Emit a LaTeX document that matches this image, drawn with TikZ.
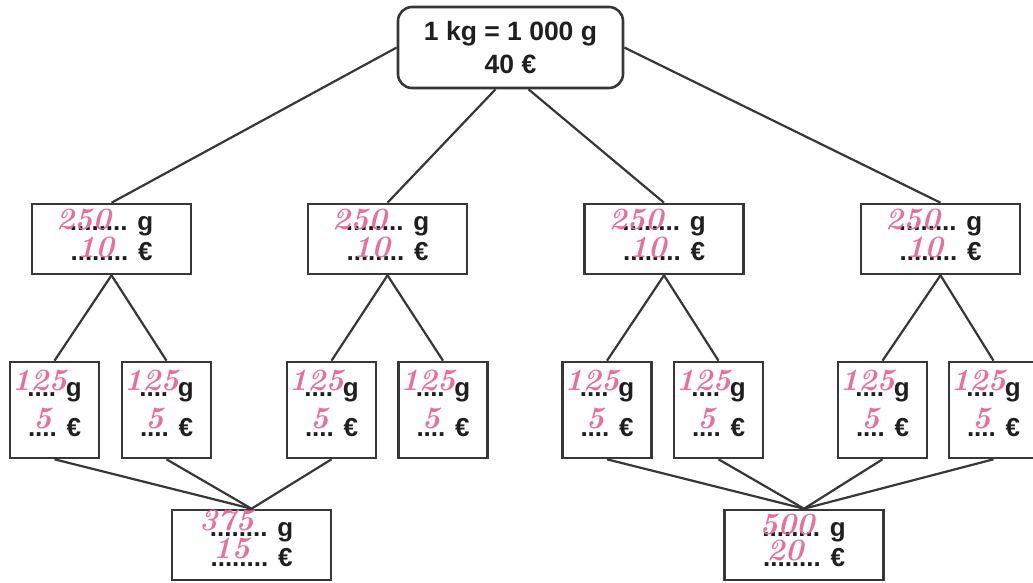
\documentclass[tikz,border=0pt]{standalone}
\usepackage{fontspec}
\setsansfont{Liberation Sans}
\usepackage{tikz}
\usetikzlibrary{positioning}
\definecolor{ink}{RGB}{55,55,55}
\definecolor{pen}{RGB}{232,112,152}

\begin{document}
\begin{tikzpicture}[x=1pt, y=-1pt,
    box/.style={rectangle, draw=ink, line width=2.6pt, inner sep=0pt, align=center, text=black!88, font=\sffamily\bfseries\fontsize{26}{30}\selectfont},
    topbox/.style={box, rounded corners=14pt, minimum width=225pt, minimum height=81pt, font=\sffamily\bfseries\fontsize{26.5}{33}\selectfont},
    midbox/.style={box, minimum width=159pt, minimum height=70pt},
    smallbox/.style={box, minimum width=89pt, minimum height=96pt, font=\sffamily\bfseries\fontsize{26}{40}\selectfont},
    link/.style={draw=ink, line width=2.2pt},
    hand/.style={text=pen, inner sep=0pt, font=\rmfamily\bfseries\itshape\fontsize{31}{31}\selectfont}
]
\clip (0,0) rectangle (1033,582);

\node[topbox] (kg) at (510.5,47.5) {1 kg = 1 000 g\\40 €};
\foreach \n/\x in {1/111.5, 2/387.5, 3/664, 4/940.5}
    \node[midbox] (q\n) at (\x,239) {........ g\\........ €};
\foreach \n/\x in {1/54.5, 2/166.5, 3/331.5, 4/443, 5/607, 6/718.5, 7/882.5, 8/993.5}
    \node[smallbox] (e\n) at (\x,410) {.... g\\.... €};
\node[midbox] (left) at (251.5,545) {........ g\\........ €};
\node[midbox] (right) at (804,545) {........ g\\........ €};

\draw[link] (kg.west) -- (q1.north);
\draw[link] ([xshift=-15pt]kg.south) -- (q2.north);
\draw[link] ([xshift=18pt]kg.south) -- (q3.north);
\draw[link] (kg.east) -- (q4.north);
\foreach \a/\b/\c in {1/1/2, 2/3/4, 3/5/6, 4/7/8} {
    \draw[link] (q\a.south) -- (e\b.north);
    \draw[link] (q\a.south) -- (e\c.north);
}
\foreach \s in {1,2,3}
    \draw[link] (e\s.south) -- (left.north);
\foreach \s in {5,...,8}
    \draw[link] (e\s.south) -- (right.north);

% handwritten answers
\foreach \n in {1,...,4} {
    \node[hand] at ([shift={(-28,-19)}]q\n.center) {250};
    \node[hand] at ([shift={(-16,9)}]q\n.center) {10};
}
\foreach \n in {1,...,8} {
    \node[hand] at ([shift={(-15,-29)}]e\n.center) {125};
    \node[hand] at ([shift={(-12,9)}]e\n.center) {5};
}
\node[hand] at ([shift={(-25,-24)}]left.center) {375};
\node[hand] at ([shift={(-20,4)}]left.center) {15};
\node[hand] at ([shift={(-17,-20)}]right.center) {500};
\node[hand] at ([shift={(-19,6)}]right.center) {20};
\end{tikzpicture}
\end{document}
